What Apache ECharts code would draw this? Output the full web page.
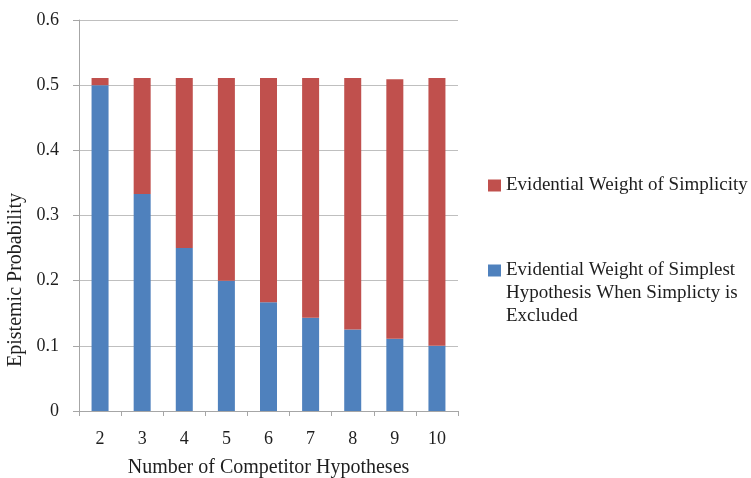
<!DOCTYPE html>
<html>
<head>
<meta charset="utf-8">
<script src="https://cdn.jsdelivr.net/npm/echarts@6/dist/echarts.min.js"></script>
<style>html,body{margin:0;padding:0;background:#fff}#c{width:751px;height:478px}</style>
</head>
<body>
<div id="c"></div>
<script>
const categories = ['2', '3', '4', '5', '6', '7', '8', '9', '10'];
const simplestValues = [0.5, 0.333, 0.25, 0.2, 0.167, 0.143, 0.125, 0.111, 0.1];
const simplicityValues = [0.011, 0.178, 0.261, 0.311, 0.344, 0.368, 0.386, 0.398, 0.411];
const seriesNames = ['Evidential Weight of Simplicity', 'Evidential Weight of Simplest Hypothesis When Simplicty is Excluded'];
const blueLegendLines = ['Evidential Weight of Simplest', 'Hypothesis When Simplicty is', 'Excluded'];

const FONT = '"Liberation Serif", "DejaVu Serif", serif';
const TXT = '#1e1e1e';
const chart = echarts.init(document.getElementById('c'), null, {renderer: 'canvas'});
chart.setOption({
  animation: false,
  textStyle: {fontFamily: FONT},
  grid: {left: 79, right: 293, top: 20, bottom: 67, containLabel: false, outerBoundsMode: 'none'},
  legend: [
    {
      data: [seriesNames[0]], orient: 'vertical', left: 488, top: 174, padding: 0,
      icon: 'rect', itemWidth: 13, itemHeight: 12, itemGap: 0,
      textStyle: {fontFamily: FONT, fontSize: 19, color: TXT, lineHeight: 23}
    },
    {
      data: [seriesNames[1]], orient: 'vertical', left: 488, top: 213, padding: 0,
      icon: 'rect', itemWidth: 13, itemHeight: 12, itemGap: 0,
      formatter: () => '\n\n' + blueLegendLines.join('\n'),
      textStyle: {fontFamily: FONT, fontSize: 19, color: TXT, lineHeight: 23}
    }
  ],
  xAxis: {
    type: 'category', data: categories,
    name: 'Number of Competitor Hypotheses', nameLocation: 'middle', nameGap: 47,
    nameTextStyle: {fontFamily: FONT, fontSize: 20, color: TXT},
    axisLine: {lineStyle: {color: '#a6a6a6', width: 1}},
    axisTick: {show: true, length: 5, lineStyle: {color: '#a6a6a6'}},
    axisLabel: {fontFamily: FONT, fontSize: 18, color: TXT, margin: 19}
  },
  yAxis: {
    type: 'value', min: 0, max: 0.6, interval: 0.1,
    name: 'Epistemic Probability', nameLocation: 'middle', nameGap: 47, nameRotate: 90,
    nameTextStyle: {fontFamily: FONT, fontSize: 20, color: TXT, padding: [0, 129, 0, 0]},
    axisLine: {show: true, lineStyle: {color: '#a6a6a6', width: 1}},
    axisTick: {show: true, length: 6, lineStyle: {color: '#a6a6a6'}},
    splitLine: {lineStyle: {color: '#bfbfbf', width: 1}},
    axisLabel: {fontFamily: FONT, fontSize: 18, color: TXT, margin: 20,
      formatter: v => (Math.round(v * 10) / 10).toString()}
  },
  series: [
    {name: seriesNames[1], type: 'bar', stack: 'total', data: simplestValues, barWidth: 17,
     itemStyle: {color: '#4f81bd'}},
    {name: seriesNames[0], type: 'bar', stack: 'total', data: simplicityValues, barWidth: 17,
     itemStyle: {color: '#c0504d'}}
  ]
});
</script>
</body>
</html>
